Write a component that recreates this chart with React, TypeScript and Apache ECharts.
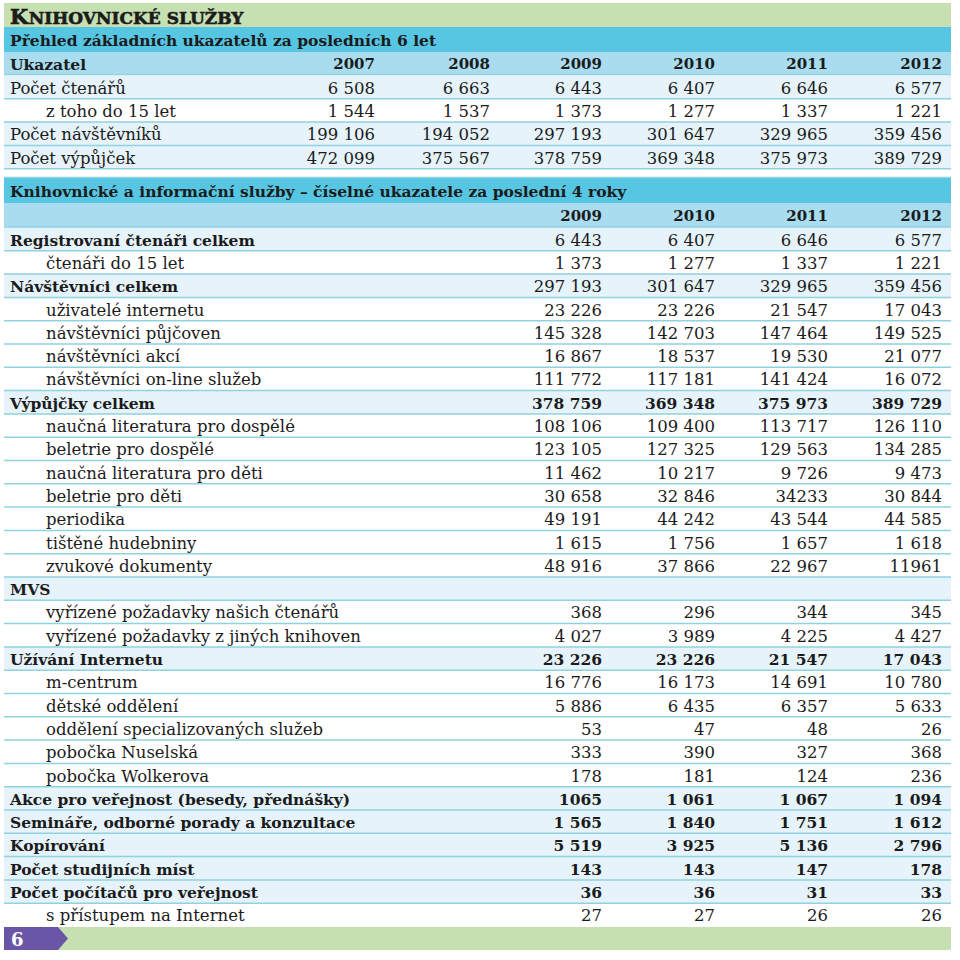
import React, { useEffect, useRef } from "react";
import * as echarts from "echarts";

// ---------- DATA ----------
const titleText = "Knihovnické služby";
const section1Title = "Přehled základních ukazatelů za posledních 6 let";
const header1Label = "Ukazatel";
const years1 = ["2007", "2008", "2009", "2010", "2011", "2012"];
const labels1 = ["Počet čtenářů", "z toho do 15 let", "Počet návštěvníků", "Počet výpůjček"];
const indent1 = [false, true, false, false];
const values1 = [
  ["6 508", "6 663", "6 443", "6 407", "6 646", "6 577"],
  ["1 544", "1 537", "1 373", "1 277", "1 337", "1 221"],
  ["199 106", "194 052", "297 193", "301 647", "329 965", "359 456"],
  ["472 099", "375 567", "378 759", "369 348", "375 973", "389 729"],
];

const section2Title = "Knihovnické a informační služby – číselné ukazatele za poslední 4 roky";
const years2 = ["2009", "2010", "2011", "2012"];
const labels2 = [
  "Registrovaní čtenáři celkem",
  "čtenáři do 15 let",
  "Návštěvníci celkem",
  "uživatelé internetu",
  "návštěvníci půjčoven",
  "návštěvníci akcí",
  "návštěvníci on-line služeb",
  "Výpůjčky celkem",
  "naučná literatura pro dospělé",
  "beletrie pro dospělé",
  "naučná literatura pro děti",
  "beletrie pro děti",
  "periodika",
  "tištěné hudebniny",
  "zvukové dokumenty",
  "MVS",
  "vyřízené požadavky našich čtenářů",
  "vyřízené požadavky z jiných knihoven",
  "Užívání Internetu",
  "m-centrum",
  "dětské oddělení",
  "oddělení specializovaných služeb",
  "pobočka Nuselská",
  "pobočka Wolkerova",
  "Akce pro veřejnost (besedy, přednášky)",
  "Semináře, odborné porady a konzultace",
  "Kopírování",
  "Počet studijních míst",
  "Počet počítačů pro veřejnost",
  "s přístupem na Internet",
];
const main2 = [
  true, false, true, false, false, false, false, true, false, false, false, false, false, false, false,
  true, false, false, true, false, false, false, false, false, true, true, true, true, true, false,
];
const valueBold2 = [
  false, false, false, false, false, false, false, true, false, false, false, false, false, false, false,
  false, false, false, true, false, false, false, false, false, true, true, true, true, true, false,
];
const values2 = [
  ["6 443", "6 407", "6 646", "6 577"],
  ["1 373", "1 277", "1 337", "1 221"],
  ["297 193", "301 647", "329 965", "359 456"],
  ["23 226", "23 226", "21 547", "17 043"],
  ["145 328", "142 703", "147 464", "149 525"],
  ["16 867", "18 537", "19 530", "21 077"],
  ["111 772", "117 181", "141 424", "16 072"],
  ["378 759", "369 348", "375 973", "389 729"],
  ["108 106", "109 400", "113 717", "126 110"],
  ["123 105", "127 325", "129 563", "134 285"],
  ["11 462", "10 217", "9 726", "9 473"],
  ["30 658", "32 846", "34233", "30 844"],
  ["49 191", "44 242", "43 544", "44 585"],
  ["1 615", "1 756", "1 657", "1 618"],
  ["48 916", "37 866", "22 967", "11961"],
  ["", "", "", ""],
  ["368", "296", "344", "345"],
  ["4 027", "3 989", "4 225", "4 427"],
  ["23 226", "23 226", "21 547", "17 043"],
  ["16 776", "16 173", "14 691", "10 780"],
  ["5 886", "6 435", "6 357", "5 633"],
  ["53", "47", "48", "26"],
  ["333", "390", "327", "368"],
  ["178", "181", "124", "236"],
  ["1065", "1 061", "1 067", "1 094"],
  ["1 565", "1 840", "1 751", "1 612"],
  ["5 519", "3 925", "5 136", "2 796"],
  ["143", "143", "147", "178"],
  ["36", "36", "31", "33"],
  ["27", "27", "26", "26"],
];
const pageNumber = "6";

// ---------- LAYOUT ----------
const FONT = "'DejaVu Serif', serif";
const X0 = 4;
const X1 = 951;
const LEFT = 10;
const INDENT = 46;
const colRight1 = [375, 490, 602, 715, 828, 942];
const colRight2 = [602, 715, 828, 942];
const ROW_H = 23.3;
const TXT_DY = 1;
const C_GREEN = "#c6e0b1";
const C_CYAN = "#57c6e3";
const C_HEAD = "#a9dcee";
const C_LIGHT = "#e6f3fa";
const C_LINE = "#8fd2e0";
const C_TEXT = "#1b1b1b";
const C_PURPLE = "#6a56a6";

const REG = 16.5;
const BOLD = 15.5;
const YEAR = 15;
const TITLE_BIG = 21;
const TITLE_SMALL = 17;

function measure(text: string, font: string): number {
  const c = document.createElement("canvas").getContext("2d");
  if (!c) return text.length * 10;
  c.font = font;
  return c.measureText(text).width;
}

function txt(x: number, y: number, text: string, opts: any = {}) {
  const style: any = {
    text,
    fill: opts.fill || C_TEXT,
    font: `${opts.bold ? "bold" : "normal"} ${opts.size || REG}px ${FONT}`,
    textAlign: opts.align || "left",
    textVerticalAlign: opts.valign || "middle",
  };
  if (opts.heavy) {
    style.stroke = opts.fill || C_TEXT;
    style.lineWidth = opts.heavy;
  }
  return {
    type: "text",
    x,
    y: y + (opts.dy !== undefined ? opts.dy : TXT_DY),
    silent: true,
    z: 10,
    style,
  };
}

function rect(x: number, y: number, w: number, h: number, fill: string, z = 1) {
  return { type: "rect", silent: true, z, shape: { x, y, width: w, height: h }, style: { fill } };
}

function hline(y: number, z = 5) {
  return {
    type: "line",
    silent: true,
    z,
    shape: { x1: X0, y1: y, x2: X1, y2: y },
    style: { stroke: C_LINE, lineWidth: 1.5 },
  };
}

function buildGraphics() {
  const els: any[] = [];
  // title bar (small caps emulated)
  els.push(rect(X0, 3, X1 - X0, 24, C_GREEN));
  const tFirst = titleText.charAt(0).toUpperCase();
  const tRest = titleText.slice(1).toUpperCase();
  const wFirst = measure(tFirst, `bold ${TITLE_BIG}px ${FONT}`);
  els.push(txt(LEFT, 27, tFirst, { bold: true, size: TITLE_BIG, valign: "bottom", dy: 0, heavy: 0.7 }));
  els.push(txt(LEFT + wFirst + 0.5, 26.2, tRest, { bold: true, size: TITLE_SMALL, valign: "bottom", dy: 0, heavy: 0.6 }));

  // section 1
  els.push(rect(X0, 27, X1 - X0, 25, C_CYAN));
  els.push(txt(LEFT, 39.5, section1Title, { bold: true, size: BOLD }));
  els.push(rect(X0, 52, X1 - X0, 22.5, C_HEAD));
  els.push(txt(LEFT, 63, header1Label, { bold: true, size: BOLD }));
  years1.forEach((y, i) => els.push(txt(colRight1[i], 63, y, { bold: true, size: YEAR, align: "right" })));
  els.push(hline(74.5));
  const t1Top = 75.5;
  labels1.forEach((lab, r) => {
    const top = t1Top + r * ROW_H;
    const cy = top + ROW_H / 2;
    if (!indent1[r]) els.push(rect(X0, top, X1 - X0, ROW_H, C_LIGHT));
    els.push(txt(indent1[r] ? INDENT : LEFT, cy, lab));
    values1[r].forEach((v, i) => els.push(txt(colRight1[i], cy, v, { align: "right" })));
    els.push(hline(top + ROW_H));
  });

  // section 2
  els.push(hline(177.5));
  els.push(rect(X0, 178, X1 - X0, 25, C_CYAN));
  els.push(txt(LEFT, 190.5, section2Title, { bold: true, size: BOLD }));
  els.push(rect(X0, 203, X1 - X0, 24, C_HEAD));
  years2.forEach((y, i) => els.push(txt(colRight2[i], 215, y, { bold: true, size: YEAR, align: "right" })));
  els.push(hline(227));
  const t2Top = 227.5;
  labels2.forEach((lab, r) => {
    const top = t2Top + r * ROW_H;
    const cy = top + ROW_H / 2;
    if (main2[r]) els.push(rect(X0, top, X1 - X0, ROW_H, C_LIGHT));
    els.push(txt(main2[r] ? LEFT : INDENT, cy, lab, main2[r] ? { bold: true, size: BOLD } : {}));
    values2[r].forEach((v, i) => {
      if (v) els.push(txt(colRight2[i], cy, v, valueBold2[r] ? { bold: true, size: BOLD, align: "right" } : { align: "right" }));
    });
    if (r < labels2.length - 1) els.push(hline(top + ROW_H));
  });

  // footer
  const fTop = t2Top + labels2.length * ROW_H + 0.5;
  els.push(rect(X0, fTop, X1 - X0, 23, C_GREEN));
  els.push({
    type: "polygon",
    silent: true,
    z: 6,
    shape: {
      points: [
        [X0, fTop],
        [58, fTop],
        [68, fTop + 11.5],
        [58, fTop + 23],
        [X0, fTop + 23],
      ],
    },
    style: { fill: C_PURPLE },
  });
  els.push(txt(11, fTop + 11, pageNumber, { bold: true, size: 18, fill: "#ffffff" }));
  return els;
}

export default function App() {
  const ref = useRef<HTMLDivElement>(null);
  useEffect(() => {
    if (!ref.current) return;
    const chart = echarts.init(ref.current, undefined, { renderer: "svg" });
    chart.setOption({
      animation: false,
      backgroundColor: "#ffffff",
      graphic: { elements: buildGraphics() },
    });
    return () => chart.dispose();
  }, []);
  return (
    <div
      ref={ref}
      style={{ position: "absolute", left: 0, top: 0, width: 960, height: 960 }}
    />
  );
}
